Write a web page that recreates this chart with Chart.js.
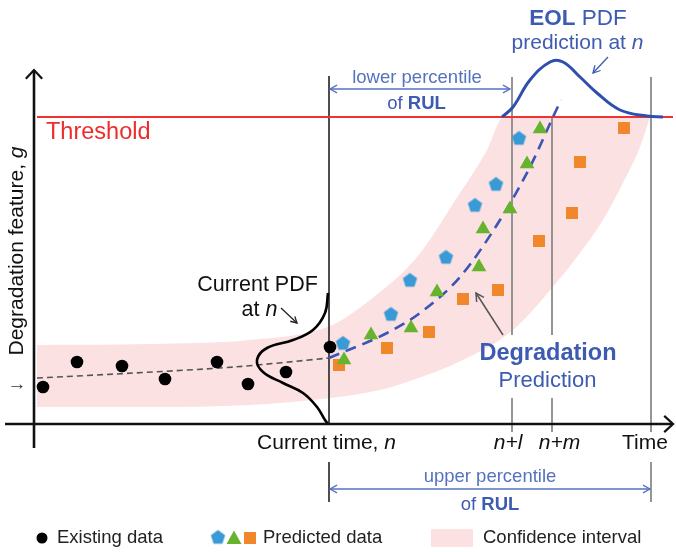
<!DOCTYPE html>
<html>
<head>
<meta charset="utf-8">
<script src="https://cdn.jsdelivr.net/npm/chart.js@4.4.1/dist/chart.umd.min.js"></script>
<style>
  html, body { margin: 0; padding: 0; background: #fff; }
  #wrap { width: 676px; height: 552px; position: relative; }
</style>
</head>
<body>
<div id="wrap"><canvas id="c"></canvas></div>
<script>
// Key instants on the time axis and the failure threshold of the feature g
const tNow = 29.5;     // current time n
const tLower = 47.8;   // n+l
const tCross = 51.8;   // n+m
const tUpper = 61.7;   // upper bound of RUL
const threshold = 30.7;

// Measured degradation feature up to the current time
const existingData = [[0.9,3.7],[4.3,6.2],[8.8,5.8],[13.1,4.5],[18.3,6.2],[21.4,4.0],[25.2,5.2],[29.6,7.7]];

// Three predicted trajectories (pentagon, triangle, square)
const predictedA = [[30.9,8.1],[35.7,11.0],[37.6,14.4],[41.2,16.7],[44.1,21.9],[46.2,24.0],[48.5,28.6]];
const predictedB = [[31.0,6.4],[33.7,8.9],[37.7,9.6],[40.3,13.2],[44.5,15.7],[44.9,19.5],[47.6,21.5],[49.3,26.0],[50.6,29.5]];
const predictedC = [[30.5,5.9],[35.3,7.6],[39.5,9.2],[42.9,12.5],[46.4,13.4],[50.5,18.3],[53.8,21.1],[54.6,26.2],[59.0,29.6]];

// Fitted trend on the history and its forecast
const trendFit = [[0.3,4.6],[10,5.1],[20,5.7],[29.5,6.6]];
const trendForecast = [[29.5,6.6],[35.3,9.1],[38.6,11.1],[42.6,14.7],[46.6,20.4],[49.6,25.7],[51.9,30.7],[52.7,32.4]];

// Confidence interval bounds
const bandUpper = [[0.3,7.9],[11.6,8.0],[21.6,8.4],[29.6,9.8],[33.6,12.4],[38.3,16.7],[42.6,23.1],[45.2,27.2],[47.0,30.7],[61.6,30.7]];
const bandLower = [[0.3,1.7],[11.6,1.7],[21.6,1.9],[29.6,2.6],[34.6,3.4],[37.9,4.4],[42.9,6.4],[47.9,9.4],[52.3,14.2],[54.6,17.1],[56.9,20.4],[58.9,24.1],[60.6,27.7],[61.6,30.7]];

// Current PDF of g at time n (drawn sideways along the g axis)
const currentPdf = [[29.4,13.1],[29.1,11.1],[27.9,9.4],[25.9,8.4],[23.3,7.6],[22.3,6.4],[22.9,5.2],[24.9,4.1],[26.9,3.1],[28.3,1.7],[29.1,0.4],[29.4,0.0]];

// End-of-life PDF sitting on the threshold
const eolPdf = [[46.8,30.7],[47.9,31.7],[49.6,34.4],[51.6,36.2],[52.9,36.2],[54.6,34.7],[56.3,33.1],[58.6,31.4],[61.3,30.8],[62.9,30.7]];

// Vertical guide lines: time value and the g-ranges they span
const guideLines = [
  { x: tNow,   spans: [[0, 34.8], [-7.8, -3.8]], color: '#3a3a3a' },
  { x: tLower, spans: [[8.9, 34.7], [-0.8, 2.6]], color: '#8a8a8a' },
  { x: tCross, spans: [[8.9, threshold], [-0.8, 2.6]], color: '#8a8a8a' },
  { x: tUpper, spans: [[-0.8, 34.7], [-7.8, -3.8]], color: '#8a8a8a' }
];

const FONT = '"Liberation Sans", Arial, Helvetica, sans-serif';
const BLUE = '#3d5bb0';
const BLUE_LIGHT = '#5572bf';
const PINK = '#fbe1e1';
const C_PENT = '#3a9ad6';
const C_TRI = '#66b32e';
const C_SQ = '#f0872a';

const xy = arr => arr.map(([x, y]) => ({ x, y }));

function makePentagon(r, color) {
  const s = Math.ceil(2 * r + 2);
  const c = document.createElement('canvas');
  c.width = s; c.height = s;
  const g = c.getContext('2d');
  g.beginPath();
  for (let i = 0; i < 5; i++) {
    const a = -Math.PI / 2 + i * 2 * Math.PI / 5;
    g.lineTo(s / 2 + r * Math.cos(a), s / 2 + 0.6 + r * Math.sin(a));
  }
  g.closePath();
  g.fillStyle = color;
  g.fill();
  return c;
}
const pentagon = makePentagon(7.5, C_PENT);

const datasets = [];

// markers on top
datasets.push({ label: 'Existing data', data: xy(existingData), pointStyle: 'circle', pointRadius: 6.3,
  backgroundColor: '#000', borderWidth: 0, order: 0 });
datasets.push({ label: 'Predicted A', data: xy(predictedA), pointStyle: pentagon, order: 0 });
datasets.push({ label: 'Predicted B', data: xy(predictedB), pointStyle: 'triangle', pointRadius: 8.5,
  backgroundColor: C_TRI, borderWidth: 0, order: 0 });
datasets.push({ label: 'Predicted C', data: xy(predictedC), pointStyle: 'rect', pointRadius: 8.5,
  backgroundColor: C_SQ, borderWidth: 0, order: 0 });

// curves
datasets.push({ label: 'Trend', data: xy(trendFit), showLine: true, pointRadius: 0, borderColor: '#555',
  borderWidth: 1.6, borderDash: [6, 4], tension: 0.3, order: 3 });
datasets.push({ label: 'Forecast', data: xy(trendForecast), showLine: true, pointRadius: 0, borderColor: '#3a55b5',
  borderWidth: 2.6, borderDash: [11, 7], cubicInterpolationMode: 'monotone', order: 3 });
datasets.push({ label: 'Current PDF', data: xy(currentPdf), showLine: true, pointRadius: 0, borderColor: '#000',
  borderWidth: 2.6, tension: 0.4, order: 2 });
datasets.push({ label: 'EOL PDF', data: xy(eolPdf), showLine: true, pointRadius: 0, borderColor: '#2f4fae',
  borderWidth: 3, tension: 0.4, order: 2 });

// threshold
datasets.push({ label: 'Threshold', data: xy([[0.3, threshold], [63.9, threshold]]), showLine: true, pointRadius: 0,
  borderColor: '#f03232', borderWidth: 2.2, order: 4 });

// vertical guide lines
guideLines.forEach(g => g.spans.forEach(([a, b]) => {
  datasets.push({ label: 'guide', data: [{ x: g.x, y: a }, { x: g.x, y: b }], showLine: true, pointRadius: 0,
    borderColor: g.color, borderWidth: 1.8, order: 5 });
}));

// confidence band (lower first, upper fills down to it)
datasets.push({ label: 'Band lower', data: xy(bandLower), showLine: true, pointRadius: 0, borderWidth: 0,
  borderColor: 'rgba(0,0,0,0)', cubicInterpolationMode: 'monotone', order: 20 });
datasets.push({ label: 'Band upper', data: xy(bandUpper), showLine: true, pointRadius: 0, borderWidth: 0,
  borderColor: 'rgba(0,0,0,0)', backgroundColor: PINK, fill: '-1', cubicInterpolationMode: 'monotone', order: 19 });

function fontOf(p) {
  return (p.i ? 'italic ' : '') + (p.b ? 'bold ' : '') + p.s + 'px ' + FONT;
}
function rich(ctx, parts, x, y, align, color) {
  let w = 0;
  parts.forEach(p => { ctx.font = fontOf(p); p.w = ctx.measureText(p.t).width; w += p.w; });
  let cx = align === 'left' ? x : x - w / 2;
  ctx.textBaseline = 'middle';
  ctx.textAlign = 'left';
  ctx.fillStyle = color;
  parts.forEach(p => { ctx.font = fontOf(p); ctx.fillText(p.t, cx, y); cx += p.w; });
}
function arrowHead(ctx, x1, y1, x2, y2, len, spread) {
  const a = Math.atan2(y2 - y1, x2 - x1);
  ctx.beginPath();
  ctx.moveTo(x2 - len * Math.cos(a - spread), y2 - len * Math.sin(a - spread));
  ctx.lineTo(x2, y2);
  ctx.lineTo(x2 - len * Math.cos(a + spread), y2 - len * Math.sin(a + spread));
  ctx.stroke();
}
function arrow(ctx, x1, y1, x2, y2, len, both) {
  ctx.beginPath();
  ctx.moveTo(x1, y1);
  ctx.lineTo(x2, y2);
  ctx.stroke();
  arrowHead(ctx, x1, y1, x2, y2, len, 0.5);
  if (both) arrowHead(ctx, x2, y2, x1, y1, len, 0.5);
}

const annotations = {
  id: 'annotations',
  afterDatasetsDraw(chart) {
    const ctx = chart.ctx;
    const X = v => chart.scales.x.getPixelForValue(v);
    const Y = v => chart.scales.y.getPixelForValue(v);
    ctx.save();
    ctx.lineCap = 'butt';

    // axes with open arrowheads
    ctx.strokeStyle = '#111';
    ctx.lineWidth = 2.6;
    ctx.beginPath();
    ctx.moveTo(X(0), Y(-2.4)); ctx.lineTo(X(0), Y(35.4));
    ctx.moveTo(X(-2.9), Y(0)); ctx.lineTo(X(63.9), Y(0));
    ctx.stroke();
    ctx.lineWidth = 2.2;
    arrowHead(ctx, X(0), Y(30), X(0), Y(35.4), 12, 0.75);
    arrowHead(ctx, X(55), Y(0), X(63.9), Y(0), 12, 0.75);

    // percentile arrows
    ctx.strokeStyle = BLUE_LIGHT;
    ctx.lineWidth = 1.3;
    arrow(ctx, X(tNow) + 1, Y(33.5), X(tLower) - 2, Y(33.5), 8, true);
    arrow(ctx, X(tNow) + 1, Y(-6.5), X(tUpper) - 1, Y(-6.5), 8, true);

    // pointer arrows
    ctx.strokeStyle = '#555';
    ctx.lineWidth = 1.5;
    arrow(ctx, X(46.9), Y(8.9), X(44.2), Y(13.1), 9, false);
    ctx.strokeStyle = BLUE;
    ctx.lineWidth = 1.3;
    arrow(ctx, X(57.4), Y(36.7), X(55.9), Y(35.1), 8, false);
    ctx.strokeStyle = '#222';
    ctx.lineWidth = 1.3;
    arrow(ctx, X(24.7), Y(11.6), X(26.3), Y(10.1), 7, false);

    // labels
    rich(ctx, [{ t: 'Threshold', s: 23.5 }], X(1.2), Y(29.1), 'left', '#ee2c2c');
    rich(ctx, [{ t: 'lower percentile', s: 18.5 }], X(38.3), Y(34.6), 'center', BLUE_LIGHT);
    rich(ctx, [{ t: 'of ', s: 18.5 }, { t: 'RUL', s: 18.5, b: true }], X(38.25), Y(32.0), 'center', BLUE);
    rich(ctx, [{ t: 'upper percentile', s: 18.5 }], X(45.6), Y(-5.3), 'center', BLUE_LIGHT);
    rich(ctx, [{ t: 'of ', s: 18.5 }, { t: 'RUL', s: 18.5, b: true }], X(45.6), Y(-8.1), 'center', BLUE);
    rich(ctx, [{ t: 'EOL', s: 22.5, b: true }, { t: ' PDF', s: 22.5 }], X(54.4), Y(40.5), 'center', BLUE);
    rich(ctx, [{ t: 'prediction at ', s: 21 }, { t: 'n', s: 21, i: true }], X(54.35), Y(38.1), 'center', BLUE);
    rich(ctx, [{ t: 'Current PDF', s: 21.5 }], X(22.35), Y(13.9), 'center', '#111');
    rich(ctx, [{ t: 'at ', s: 21.5 }, { t: 'n', s: 21.5, i: true }], X(22.55), Y(11.4), 'center', '#111');
    rich(ctx, [{ t: 'Degradation', s: 23.5, b: true }], X(51.4), Y(7.0), 'center', BLUE);
    rich(ctx, [{ t: 'Prediction', s: 22 }], X(51.35), Y(4.3), 'center', BLUE);
    rich(ctx, [{ t: 'Current time, ', s: 21 }, { t: 'n', s: 21, i: true }], X(29.25), Y(-1.9), 'center', '#111');
    rich(ctx, [{ t: 'n+l', s: 21, i: true }], X(47.4), Y(-1.9), 'center', '#111');
    rich(ctx, [{ t: 'n+m', s: 21, i: true }], X(52.55), Y(-1.9), 'center', '#111');
    rich(ctx, [{ t: 'Time', s: 21 }], X(58.8), Y(-1.9), 'left', '#111');
    rich(ctx, [{ t: '\u2192', s: 19 }], X(-1.7), Y(3.9), 'center', '#333');

    // vertical axis title
    ctx.save();
    ctx.translate(X(-1.7), Y(17.3));
    ctx.rotate(-Math.PI / 2);
    rich(ctx, [{ t: 'Degradation feature, ', s: 21 }, { t: 'g', s: 21, i: true }], 0, 0, 'center', '#111');
    ctx.restore();

    // legend
    const ly = chart.height - 14;
    ctx.fillStyle = '#000';
    ctx.beginPath(); ctx.arc(42, ly, 5.5, 0, Math.PI * 2); ctx.fill();
    rich(ctx, [{ t: 'Existing data', s: 18.5 }], 57, ly, 'left', '#222');
    ctx.drawImage(pentagon, 218 - pentagon.width / 2, ly - 1 - pentagon.height / 2);
    ctx.fillStyle = C_TRI;
    ctx.beginPath(); ctx.moveTo(234, ly - 7.5); ctx.lineTo(241.5, ly + 6); ctx.lineTo(226.5, ly + 6); ctx.closePath(); ctx.fill();
    ctx.fillStyle = C_SQ;
    ctx.fillRect(244, ly - 6, 12, 12);
    rich(ctx, [{ t: 'Predicted data', s: 18.5 }], 263, ly, 'left', '#222');
    ctx.fillStyle = PINK;
    ctx.fillRect(431, ly - 9, 42, 18);
    rich(ctx, [{ t: 'Confidence interval', s: 18.5 }], 483, ly, 'left', '#222');

    ctx.restore();
  }
};

new Chart(document.getElementById('c'), {
  type: 'scatter',
  data: { datasets },
  options: {
    responsive: true,
    maintainAspectRatio: false,
    animation: false,
    events: [],
    layout: { padding: 0, autoPadding: false },
    plugins: { legend: { display: false }, tooltip: { enabled: false } },
    scales: {
      x: { type: 'linear', min: -3.4, max: 64.2, display: false },
      y: { type: 'linear', min: -12.8, max: 42.4, display: false }
    }
  },
  plugins: [annotations]
});
</script>
</body>
</html>
